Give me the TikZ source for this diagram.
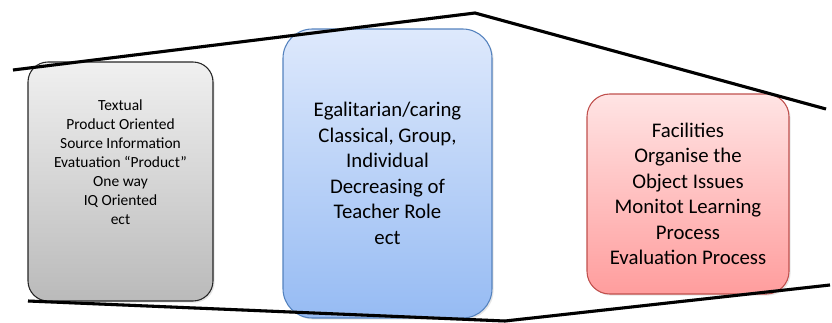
\documentclass[tikz,border=0pt]{standalone}
\usepackage{fontspec}
\setmainfont{Carlito}
\usetikzlibrary{positioning,calc,shadows}
\definecolor{oldtop}{RGB}{240,240,240}
\definecolor{oldbot}{RGB}{186,186,186}
\definecolor{midtop}{RGB}{222,233,252}
\definecolor{midbot}{RGB}{150,187,243}
\definecolor{midline}{RGB}{84,130,190}
\definecolor{newtop}{RGB}{255,228,228}
\definecolor{newbot}{RGB}{255,157,157}
\definecolor{newline}{RGB}{192,80,77}

\begin{document}
\begin{tikzpicture}[
    x=0.75pt, y=-0.75pt,
    roomshadow/.style={drop shadow={opacity=0.2, shadow xshift=1.2pt, shadow yshift=-1.2pt}},
    oldbox/.style={rectangle, rounded corners=15pt, draw=black!85, line width=0.8pt, top color=oldtop, bottom color=oldbot, minimum width=138.75pt, minimum height=179.25pt, roomshadow},
    midbox/.style={rectangle, rounded corners=22pt, draw=midline, line width=0.8pt, top color=midtop, bottom color=midbot, minimum width=156.75pt, minimum height=216.75pt, roomshadow},
    newbox/.style={rectangle, rounded corners=17pt, draw=newline, line width=0.8pt, top color=newtop, bottom color=newbot, minimum width=151.5pt, minimum height=150pt, roomshadow},
    smalltext/.style={align=center, font=\fontsize{11.6}{14.25}\selectfont},
    bigtext/.style={align=center, font=\fontsize{15.6}{19.1}\selectfont},
    rail/.style={line width=2.3pt, black, line join=miter},
    railshadow/.style={line width=2.3pt, black!30, opacity=0.6}
]
\useasboundingbox (0,0) rectangle (832,322);

% Boxes
\node[oldbox] (old) at (120.5,181.5) {};
\node[smalltext] (oldtext) at ($(old.center)+(0,-19)$) {Textual\\Product Oriented\\Source Information\\Evatuation ``Product''\\One way\\IQ Oriented\\ect};

\node[midbox, bigtext] (mid) at (387.5,173.5) {Egalitarian/caring\\Classical, Group,\\Individual\\Decreasing of\\Teacher Role\\ect};

\node[newbox, bigtext] (new) at (688,194) {Facilities\\Organise the\\Object Issues\\Monitot Learning\\Process\\Evaluation Process};

% Roof and floor
\coordinate (roofleft) at (13,70);
\coordinate (roofpeak) at (475,13);
\coordinate (roofright) at (826,109);
\coordinate (floorleft) at (28,301);
\coordinate (floormid) at (505,321);
\coordinate (floorright) at (830,285);

\draw[railshadow, xshift=1.2pt, yshift=-1.2pt] (roofleft) -- (roofpeak) -- (roofright);
\draw[railshadow, xshift=1.2pt, yshift=-1.2pt] (floorleft) -- (floormid) -- (floorright);
\draw[rail] (roofleft) -- (roofpeak) -- (roofright);
\draw[rail] (floorleft) -- (floormid) -- (floorright);

\end{tikzpicture}
\end{document}
